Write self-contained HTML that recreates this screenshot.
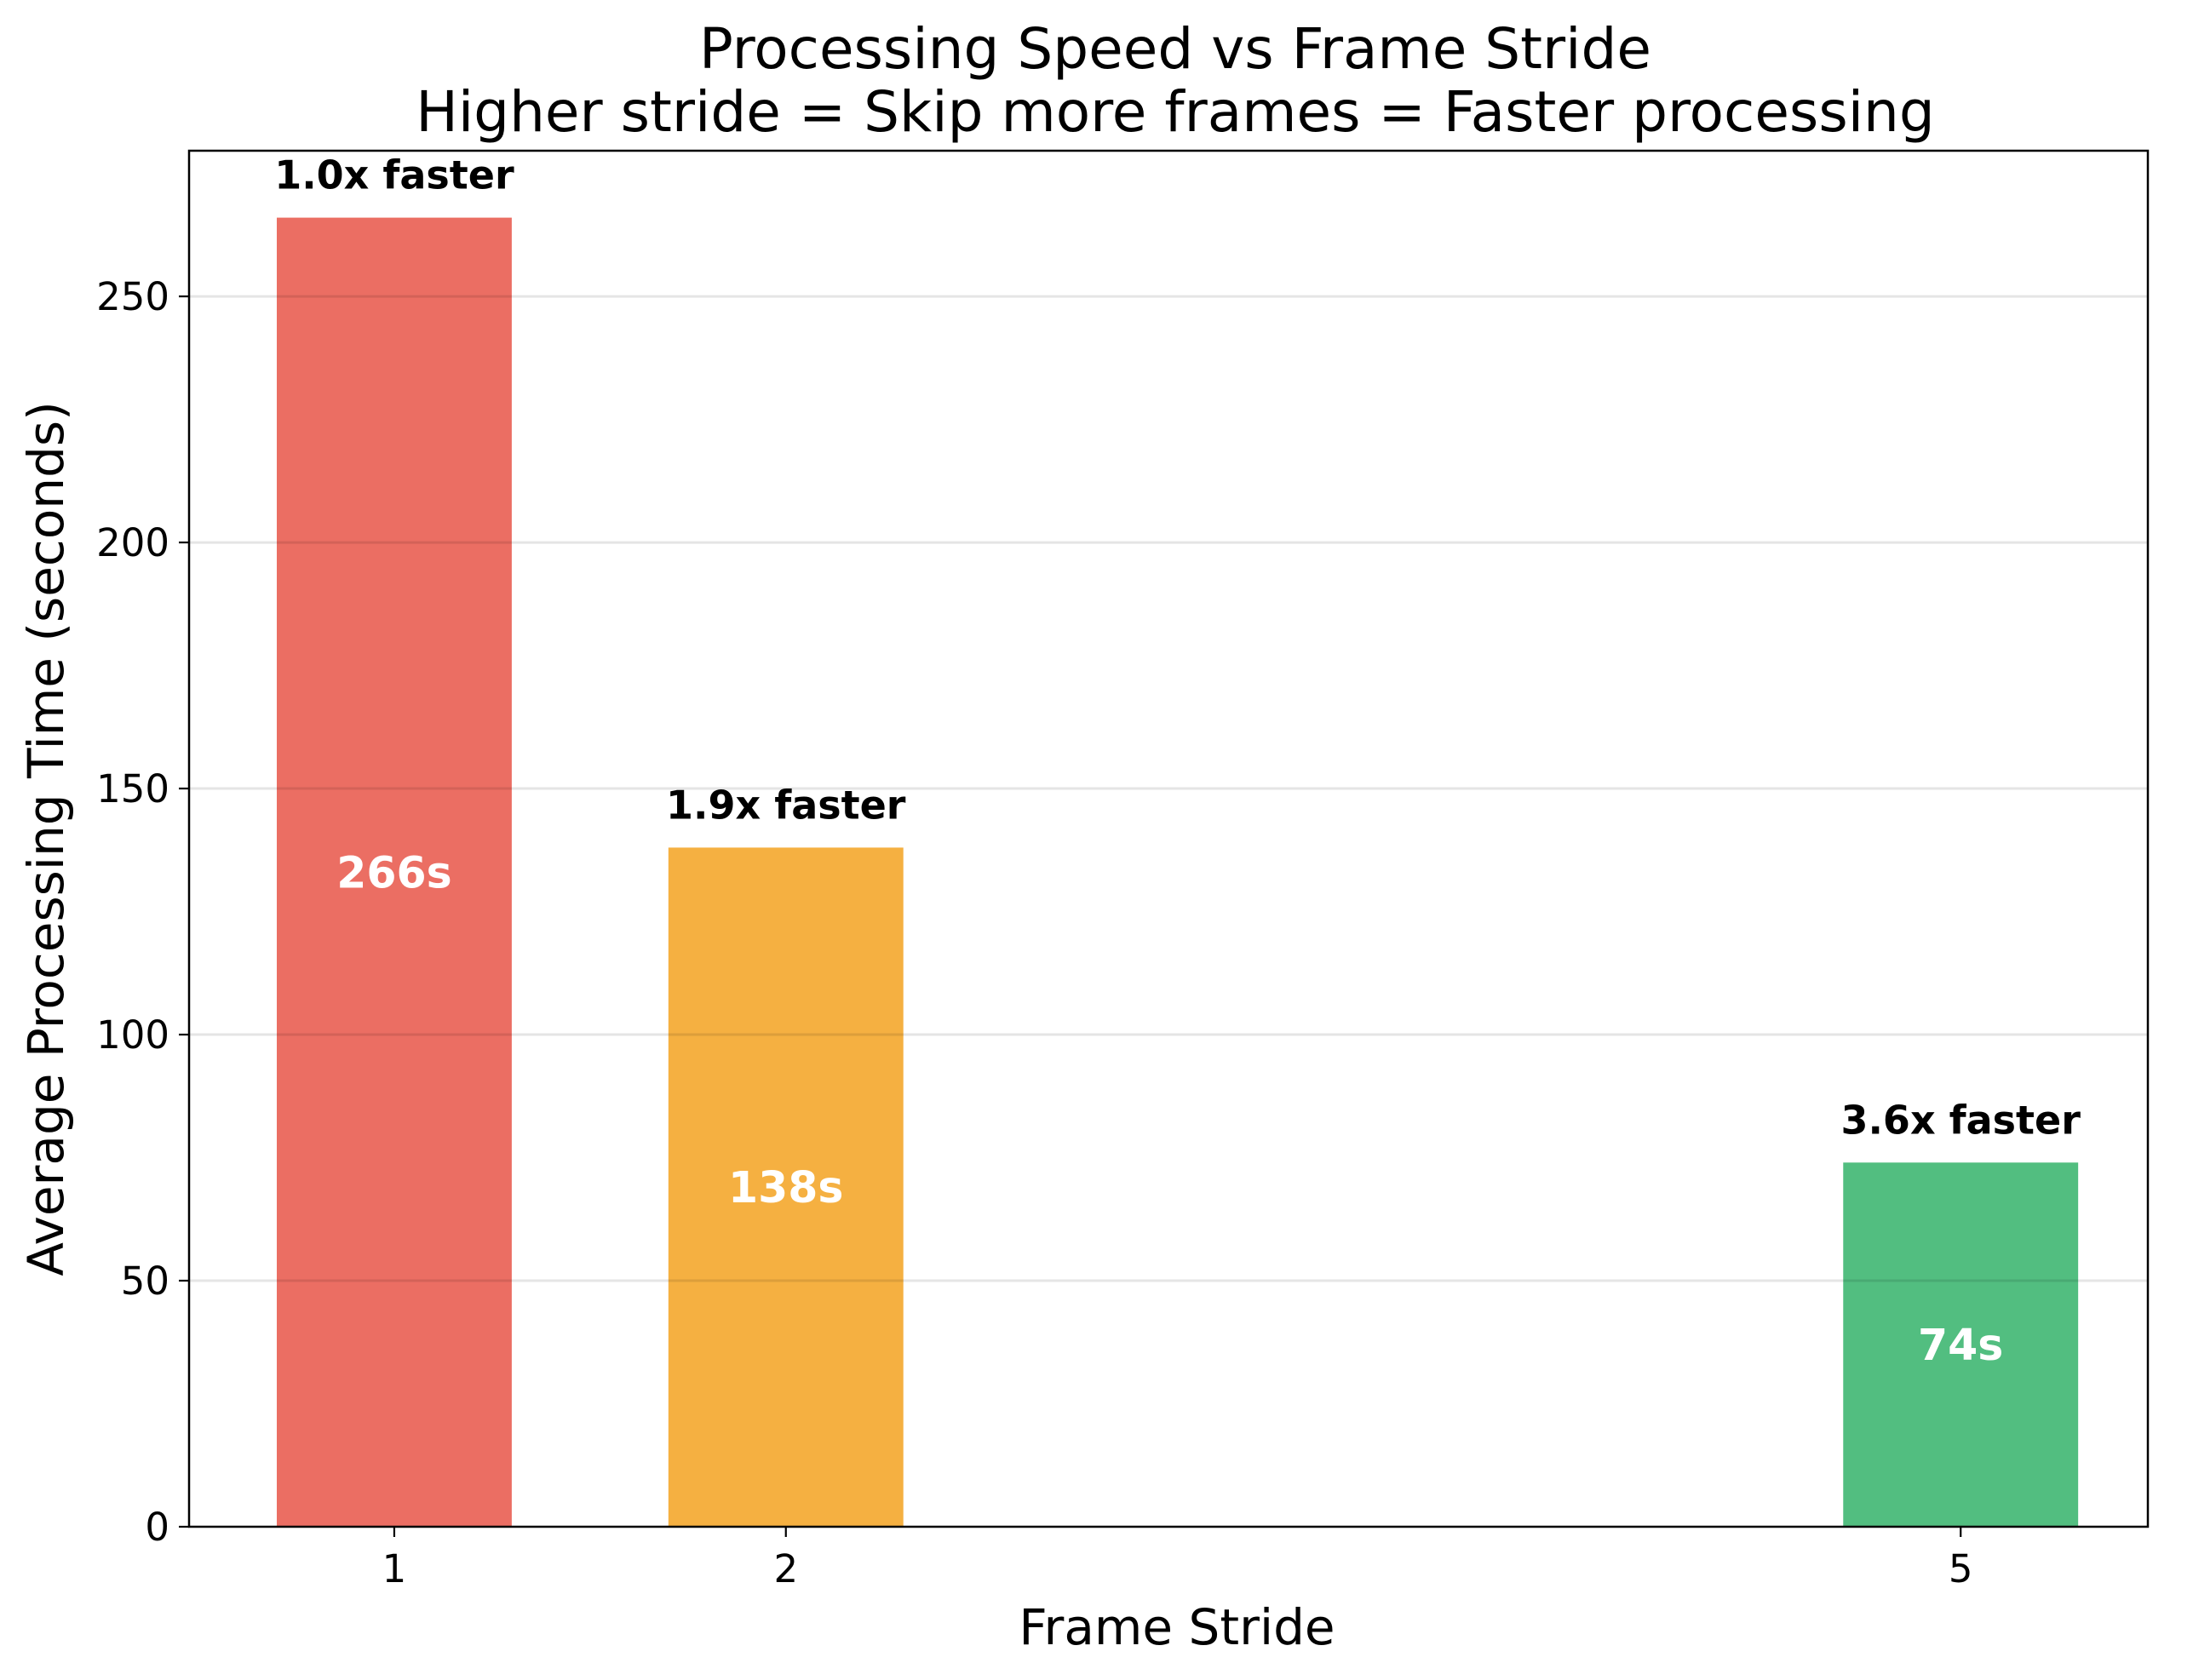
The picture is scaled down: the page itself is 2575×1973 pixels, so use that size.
<!DOCTYPE html>
<html><head><meta charset="utf-8">
<style>
html,body{margin:0;padding:0;background:#fff;}
svg{display:block;font-family:"DejaVu Sans","Liberation Sans",sans-serif;}
</style></head>
<body>
<svg id="chart" width="2575" height="1973" viewBox="0 0 2575 1973" xmlns="http://www.w3.org/2000/svg">
<rect width="2575" height="1973" fill="#fff"/>
<text x="1380" y="80" font-size="66" text-anchor="middle">Processing Speed vs Frame Stride</text>
<text x="1380" y="154" font-size="66" text-anchor="middle">Higher stride = Skip more frames = Faster processing</text>
<g id="grid"></g>
<g id="bars"></g>
<g id="gridtop"></g>
<g id="axes"></g>
<text x="1382" y="1931" font-size="58" text-anchor="middle">Frame Stride</text>
<text transform="translate(74,985) rotate(-90)" font-size="58" text-anchor="middle">Average Processing Time (seconds)</text>
</svg>
<script>
const strides = [1, 2, 5];
const times = [266, 138, 74];
const speedups = ["1.0", "1.9", "3.6"];
const valueLabels = ["266s", "138s", "74s"];
const yTicks = [0, 50, 100, 150, 200, 250];
const colors = ["#EB6E63", "#F5B041", "#52BE80"];

const L = 222, R = 2522, T = 177, B = 1793;
const xMin = 0.476, xMax = 5.478, yMax = 279.6;
const NS = "http://www.w3.org/2000/svg";
function xs(v){ return L + (v - xMin) / (xMax - xMin) * (R - L); }
function ys(v){ return B - v / yMax * (B - T); }
function mk(tag, attrs, parent, txt){
  const e = document.createElementNS(NS, tag);
  for (const k in attrs) e.setAttribute(k, attrs[k]);
  if (txt !== undefined) e.textContent = txt;
  parent.appendChild(e);
  return e;
}
const grid = document.getElementById('gridtop');
const bars = document.getElementById('bars');
const axes = document.getElementById('axes');
const bw = 0.6;

strides.forEach((s, i) => {
  const x0 = xs(s - bw/2), x1 = xs(s + bw/2);
  const r = mk('rect', {x: x0, y: ys(times[i]), width: x1 - x0, height: B - ys(times[i]), fill: colors[i]}, bars);
  
  
  const t = mk('text', {x: xs(s), y: ys(times[i]) - 34, 'font-size': 46, 'font-weight': 'bold', 'text-anchor': 'middle'}, bars, speedups[i] + 'x faster');
  
  
  const v = mk('text', {x: xs(s), y: ys(times[i] / 2) + 18, 'font-size': 50.5, 'font-weight': 'bold', fill: '#fff', 'text-anchor': 'middle'}, bars, valueLabels[i]);
  
  
});

yTicks.forEach(v => {
  if (v > 0) {
    const g = mk('line', {x1: L, x2: R, y1: ys(v), y2: ys(v), stroke: 'rgba(0,0,0,0.1)', 'stroke-width': 3}, grid);
    
    
  }
  const tk = mk('line', {x1: L - 12, x2: L, y1: ys(v), y2: ys(v), stroke: '#000', 'stroke-width': 2.2}, axes);
  
  
  const lb = mk('text', {x: L - 23, y: ys(v) + 16, 'font-size': 45, 'text-anchor': 'end'}, axes, String(v));
  
  
});

strides.forEach(s => {
  const tk = mk('line', {x1: xs(s), x2: xs(s), y1: B, y2: B + 12, stroke: '#000', 'stroke-width': 2.2}, axes);
  
  
  const lb = mk('text', {x: xs(s), y: B + 65, 'font-size': 45, 'text-anchor': 'middle'}, axes, String(s));
  
  
});

const frame = mk('rect', {x: L, y: T, width: R - L, height: B - T, fill: 'none', stroke: '#000', 'stroke-width': 2.5}, axes);


</script>
</body></html>
